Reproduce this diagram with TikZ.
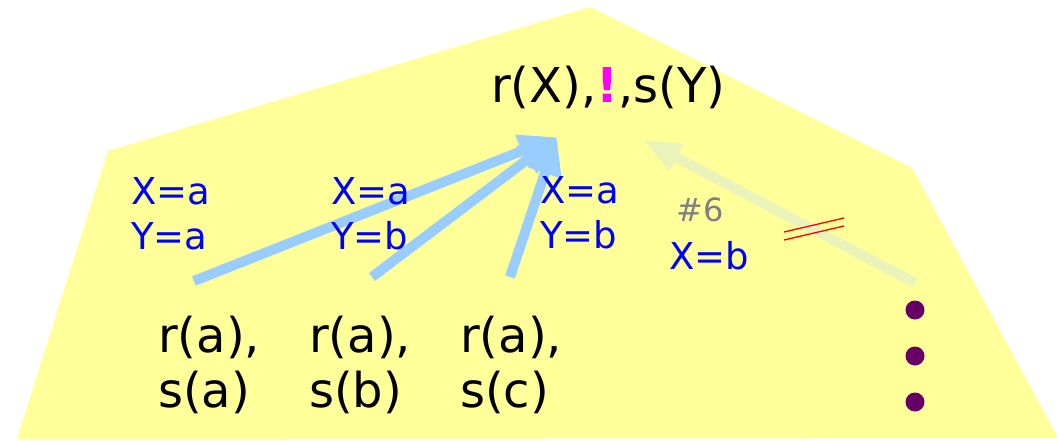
\documentclass[tikz,border=0pt]{standalone}
\usepackage{fontspec}
\setmainfont{DejaVu Sans}
\usetikzlibrary{arrows.meta}
\definecolor{NoteYellow}{RGB}{255,255,153}
\definecolor{BranchBlue}{RGB}{153,204,255}
\definecolor{CutBranch}{RGB}{234,244,186}
\definecolor{DotPurple}{RGB}{102,0,102}
\definecolor{CutMagenta}{RGB}{255,0,255}
\definecolor{BindBlue}{RGB}{0,0,255}

\begin{document}
\begin{tikzpicture}[x=1pt,y=-1pt,
    branch/.style={-{Triangle[length=38pt,width=32pt]},line width=10pt,BranchBlue},
    binding/.style={BindBlue,anchor=base west,inner sep=0pt,align=left,font=\fontsize{37}{45}\selectfont},
    answer/.style={anchor=base west,inner sep=0pt,align=left,font=\fontsize{48}{55}\selectfont}]
  \useasboundingbox (0,0) rectangle (1058,440);
  \fill[NoteYellow] (108,151)--(590,7)--(912,168)--(1058,438)--(17,439)--cycle;
  % ends of the branches
  \coordinate (tip) at (557,137);
  \coordinate (cuttip) at (643,140);
  \coordinate (fromA) at (194,281);
  \coordinate (fromB) at (372,277);
  \coordinate (fromC) at (510,277);
  \coordinate (fromD) at (915,283);
  \draw[branch] (fromA)--(tip);
  \draw[branch] (fromB)--(tip);
  \draw[branch] (fromC)--(tip);
  \draw[-{Triangle[length=38pt,width=28pt]},line width=10pt,CutBranch] (fromD)--(cuttip);
  \node[answer] (goal) at (491,102) {r(X),\textcolor{CutMagenta}{\textbf{!}},s(Y)};
  \node[binding] (bindA) at (131,249) {X=a\\Y=a};
  \node[binding] (bindB) at (331,249) {X=a\\Y=b};
  \node[binding] (bindC) at (540,248) {X=a\\Y=b};
  \node[gray,anchor=base west,inner sep=0pt,font=\fontsize{32}{36}\selectfont] (stepsix) at (676,221) {\#6};
  \node[binding] (bindD) at (669,269) {X=b};
  \node[answer] (ansA) at (158,407) {r(a),\\s(a)};
  \node[answer] (ansB) at (309,407) {r(a),\\s(b)};
  \node[answer] (ansC) at (460,407) {r(a),\\s(c)};
  % cut mark
  \draw[red,line width=1.3pt] (784,232)--(844,218) (784,240)--(844,226);
  \foreach \y in {310,356,402}
    \fill[DotPurple] (915,\y) circle (9.5);
\end{tikzpicture}
\end{document}
